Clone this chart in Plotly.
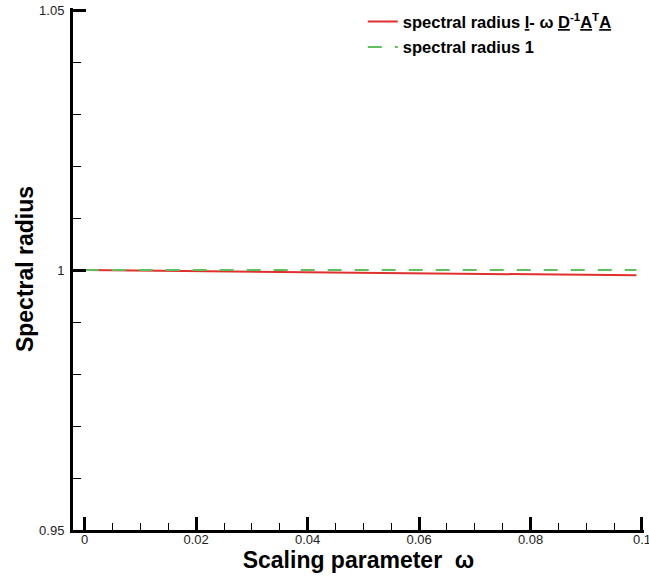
import plotly.graph_objects as go

# Data
omega = [0.0, 0.02, 0.04, 0.06, 0.08, 0.099]
rho_iter = [1.0, 0.99979, 0.99959, 0.99938, 0.99918, 0.99898]
omega_one = [0.0, 0.099]
rho_one = [1.0, 1.0]

x_ticks = [0, 0.02, 0.04, 0.06, 0.08, 0.1]
x_ticklabels = ["0", "0.02", "0.04", "0.06", "0.08", "0.1"]
y_ticks = [0.95, 1.0, 1.05]
y_ticklabels = ["0.95", "1", "1.05"]

name_iter = ('spectral radius <span style="text-decoration:underline double">I</span>- ω '
             '<span style="text-decoration:underline double">D</span><sup>-1</sup>'
             '<span style="text-decoration:underline double">A</span><sup>T</sup>'
             '<span style="text-decoration:underline double">A</span>')
name_one = 'spectral radius 1'

FONT = "Liberation Sans, Arial, sans-serif"

fig = go.Figure()
fig.add_trace(go.Scatter(x=omega, y=rho_iter, mode="lines", name=name_iter,
                         legendgroup="a",
                         line=dict(color="#e0302e", width=2)))
fig.add_trace(go.Scatter(x=omega_one, y=rho_one, mode="lines", name=name_one,
                         legendgroup="b",
                         line=dict(color="#5cc05c", width=2, dash="14px,13px")))

axis_common = dict(showline=True, linecolor="black", linewidth=3, mirror=False,
                   showgrid=False, zeroline=False, ticks="inside",
                   tickcolor="black", tickwidth=3, ticklen=13,
                   tickfont=dict(family=FONT, size=13, color="#222"),
                   ticklabeloverflow="allow",
                   automargin=False)

fig.update_xaxes(range=[-0.0021, 0.10036], tickmode="array",
                 tickvals=x_ticks, ticktext=x_ticklabels,
                 minor=dict(ticks="inside", dtick=0.005, tick0=0, ticklen=7,
                            tickwidth=1, tickcolor="black"),
                 ticklabelstandoff=-5,
                 title=dict(text="Scaling parameter  ω", standoff=4,
                            font=dict(family=FONT, size=23, color="black", weight="bold")),
                 **axis_common)
fig.update_yaxes(range=[0.95, 1.0504], tickmode="array",
                 tickvals=y_ticks, ticktext=y_ticklabels,
                 minor=dict(ticks="inside", dtick=0.01, tick0=0.95, ticklen=8,
                            tickwidth=1, tickcolor="black"),
                 ticklabelstandoff=3,
                 title=dict(text="Spectral radius", standoff=0,
                            font=dict(family=FONT, size=23, color="black", weight="bold")),
                 **axis_common)

fig.update_layout(
    width=649, height=582,
    margin=dict(l=73, r=5, t=7, b=52),
    plot_bgcolor="white", paper_bgcolor="white",
    showlegend=True,
    legend=dict(x=0.5075, y=1.005, xanchor="left", yanchor="top",
                bgcolor="rgba(0,0,0,0)", borderwidth=0,
                font=dict(family=FONT, size=16.5, color="black", weight="bold"),
                tracegroupgap=1),
)

fig.write_html("out.html",
               config={"displayModeBar": False},
               post_script="document.body.style.margin='0';")
